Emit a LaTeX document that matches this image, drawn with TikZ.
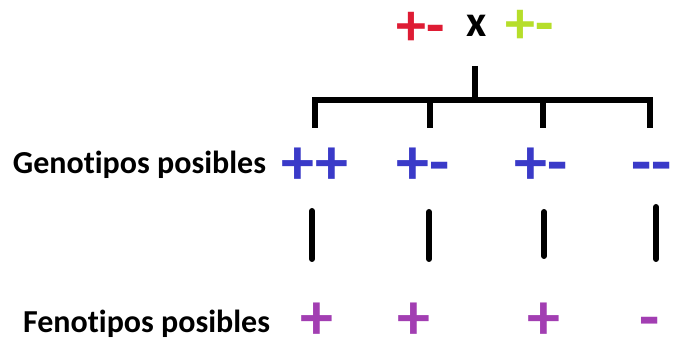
\documentclass[tikz,border=0pt]{standalone}
\usepackage{fontspec}
\setmainfont[Ligatures={NoCommon}]{Carlito}
\usetikzlibrary{positioning}

\definecolor{redpar}{RGB}{222,28,52}
\definecolor{greenpar}{RGB}{182,222,42}
\definecolor{bluegen}{RGB}{58,58,200}
\definecolor{purplefen}{RGB}{162,62,178}

\begin{document}
\begin{tikzpicture}[x=1pt,y=-1pt,line width=6pt]
  \tikzstyle{every node}=[inner sep=0pt,font=\bfseries]
  \tikzstyle{sign}=[font=\fontsize{60}{60}\bfseries\selectfont,
                    text height=36pt,text depth=0pt]
  \tikzstyle{bigsign}=[font=\fontsize{66}{66}\bfseries\selectfont,
                       text height=39.6pt,text depth=0pt]
  \tikzstyle{cross}=[font=\fontsize{44}{44}\bfseries\selectfont,anchor=base]
  \tikzstyle{label}=[font=\fontsize{32}{32}\bfseries\selectfont,anchor=east]
  \tikzstyle{bar}=[line width=6pt]
  \tikzstyle{link}=[line width=6pt,line cap=round]

  \useasboundingbox (0,0) rectangle (673,342);

  % padres
  \node[sign,text=redpar]   (p1) at (421,28) {+-};
  \node[cross]              (cx) at (477,37) {x};
  \node[sign,text=greenpar] (p2) at (530,26) {+-};

  % genotipos
  \node[label] (gen) at (269,165) {Genotipos posibles};
  \node[bigsign,text=bluegen] (g1) at (315,165) {++};
  \node[bigsign,text=bluegen] (g2) at (423,165) {+-};
  \node[bigsign,text=bluegen] (g3) at (541,165) {+-};
  \node[bigsign,text=bluegen] (g4) at (652,165) {-{}-};

  % fenotipos
  \node[label] (fen) at (273,324) {Fenotipos posibles};
  \node[bigsign,text=purplefen] (f1) at (317,320) {+};
  \node[bigsign,text=purplefen] (f2) at (414,320) {+};
  \node[bigsign,text=purplefen] (f3) at (544,320) {+};
  \node[bigsign,text=purplefen] (f4) at (650,320) {-};

  \coordinate (top) at (475,66);
  \coordinate (mid) at (475,100);
  \coordinate (b1) at (315,100);
  \coordinate (b4) at (650,100);
  \coordinate (t1) at (315,128);
  \coordinate (t2) at (430,128);
  \coordinate (t3) at (543,128);
  \coordinate (t4) at (650,128);

  \draw[bar] (top) -- (mid);
  \draw[bar] ([xshift=-3pt]b1) -- ([xshift=3pt]b4);
  \draw[bar] (b1) -- (t1);
  \draw[bar] (430,100) -- (t2);
  \draw[bar] (543,100) -- (t3);
  \draw[bar] (b4) -- (t4);

  \coordinate (u1) at (312,211);
  \coordinate (u2) at (429,212);
  \coordinate (u3) at (544,212);
  \coordinate (u4) at (656,207);
  \coordinate (v1) at (312,259);
  \coordinate (v2) at (429,259);
  \coordinate (v3) at (544,256);
  \coordinate (v4) at (656,259);

  \draw[link] (u1) -- (v1);
  \draw[link] (u2) -- (v2);
  \draw[link] (u3) -- (v3);
  \draw[link] (u4) -- (v4);

\end{tikzpicture}
\end{document}
